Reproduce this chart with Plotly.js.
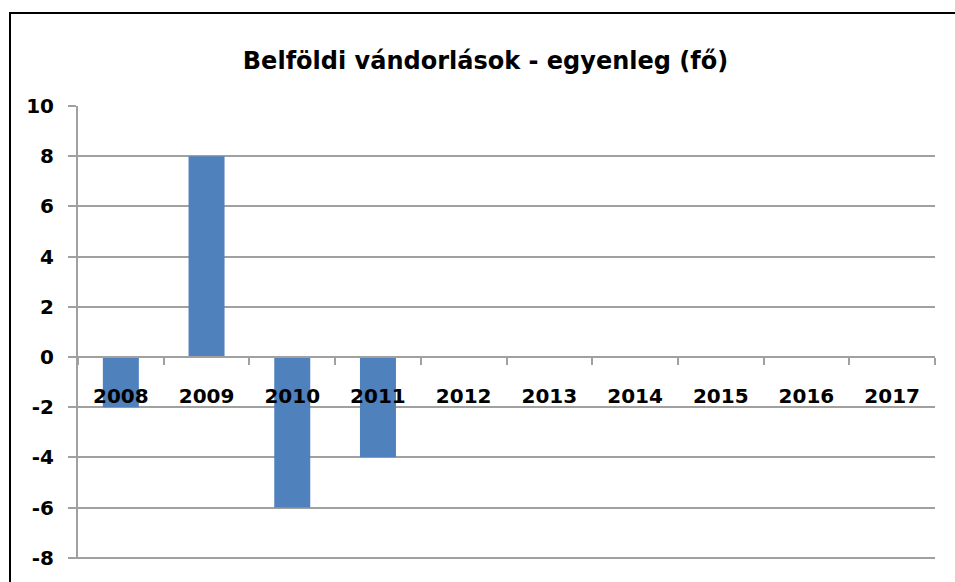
<!DOCTYPE html>
<html>
<head>
<meta charset="utf-8">
<script src="https://cdn.plot.ly/plotly-3.0.1.min.js"></script>
<style>
html,body{margin:0;padding:0;background:#fff;overflow:hidden;}
#chart{width:955px;height:582px;position:absolute;left:0;top:0;}
#frame{position:absolute;left:9px;top:12px;width:960px;height:600px;border:2px solid #000;pointer-events:none;box-sizing:border-box;}
</style>
</head>
<body>
<div id="chart"></div>
<div id="frame"></div>
<script>
const years = ["2008","2009","2010","2011","2012","2013","2014","2015","2016","2017"];
const balance = [-2, 8, -6, -4, 0, 0, 0, 0, 0, 0];
const yTicks = [-8, -6, -4, -2, 0, 2, 4, 6, 8, 10];
const chartTitle = "Belföldi vándorlások - egyenleg (fő)";

const FONT = "DejaVu Sans, sans-serif";
const yMin = -8.05, yMax = 10;

Plotly.newPlot("chart", [{
  type: "bar",
  x: years,
  y: balance,
  marker: {color: "#4F81BD", line: {width: 0}},
  hoverinfo: "x+y"
}], {
  width: 955, height: 582,
  margin: {l: 78, r: 20, t: 106, b: 23.2, pad: 0},
  paper_bgcolor: "#fff", plot_bgcolor: "#fff",
  bargap: 0.58,
  showlegend: false,
  title: {
    text: "<b>" + chartTitle + "</b>",
    font: {family: FONT, size: 24, color: "#000"},
    x: 485.5/955, xref: "container", xanchor: "center",
    y: 1 - 61/582, yref: "container", yanchor: "middle"
  },
  xaxis: {
    type: "category",
    anchor: "free",
    position: (0 - yMin) / (yMax - yMin),
    showline: true, linecolor: "#A0A0A0", linewidth: 2,
    ticks: "outside", tickson: "boundaries", ticklen: 7, tickwidth: 2, tickcolor: "#A0A0A0",
    showgrid: false, zeroline: false,
    tickfont: {family: FONT, size: 20, color: "#000", weight: "bold"},
    ticklabelstandoff: 21,
    fixedrange: true
  },
  yaxis: {
    range: [yMin, yMax],
    tickvals: yTicks,
    ticktext: yTicks.map(String),
    showline: true, linecolor: "#A0A0A0", linewidth: 2,
    ticks: "outside", ticklen: 8, tickwidth: 2, tickcolor: "#A0A0A0",
    showgrid: true, gridcolor: "#A0A0A0", gridwidth: 2,
    zeroline: false,
    tickfont: {family: FONT, size: 20, color: "#000", weight: "bold"},
    ticklabelstandoff: 10,
    fixedrange: true
  }
}, {displayModeBar: false, staticPlot: true});
</script>
</body>
</html>
